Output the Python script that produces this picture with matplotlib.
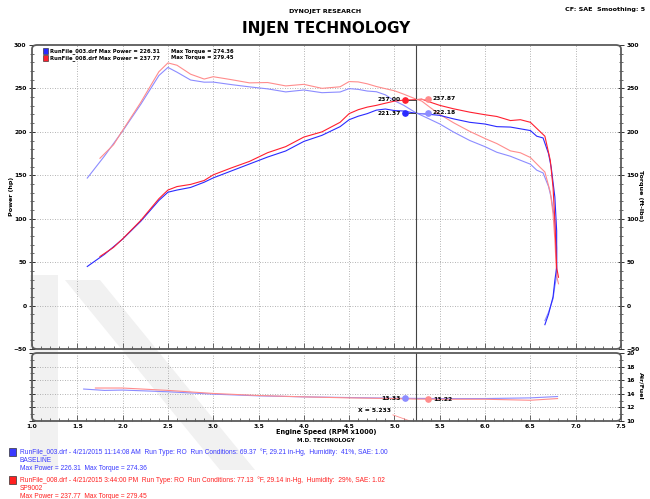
import matplotlib
matplotlib.use('Agg')
import matplotlib.pyplot as plt
from matplotlib.patches import FancyBboxPatch, Rectangle, Polygon
from matplotlib.ticker import MultipleLocator

# ---------------- data ----------------
rpm_003 = [1.61, 1.8, 2.0, 2.2, 2.4, 2.5, 2.6, 2.75, 2.9, 3.0, 3.2, 3.4, 3.6, 3.8, 4.0,
           4.2, 4.4, 4.5, 4.6, 4.7, 4.8, 4.9, 5.0, 5.1, 5.233, 5.35, 5.5, 5.65, 5.83,
           6.0, 6.13, 6.28, 6.39, 6.5, 6.57, 6.64, 6.70, 6.73, 6.77, 6.79, 6.79, 6.77,
           6.75, 6.70, 6.66]
power_003 = [45, 59, 76.5, 97, 121, 130.5, 133, 136, 142, 147, 155, 163, 171, 178, 189,
             196, 206, 214, 218, 221, 225, 226.3, 224.5, 224, 221.4, 220.5, 219, 215, 211,
             209, 206, 205.5, 203.5, 201.5, 195, 193, 175, 159, 125, 86, 44, 29,
             10, -10, -22]
torque_003 = [146.8, 172.2, 200.9, 231.6, 264.8, 274.2, 268.7, 259.7, 257.2, 257.3, 254.4,
              251.8, 249.5, 246.0, 248.2, 245.1, 245.9, 249.8, 248.9, 247.0, 246.2, 242.6,
              235.8, 230.7, 222.2, 216.5, 209.1, 199.9, 190.1, 182.9, 176.5, 171.9, 167.3,
              162.8, 155.9, 152.7, 137.2, 124.1, 97.0, 66.5, 34.0, 22.5, 7.8, -7.8, -17.3]

rpm_008 = [1.75, 1.9, 2.0, 2.2, 2.4, 2.5, 2.6, 2.75, 2.9, 3.0, 3.2, 3.4, 3.6, 3.8, 4.0,
           4.2, 4.4, 4.5, 4.6, 4.7, 4.8, 4.9, 5.0, 5.1, 5.233, 5.3, 5.4, 5.5, 5.65, 5.83,
           6.0, 6.13, 6.28, 6.39, 6.5, 6.61, 6.66, 6.72, 6.75, 6.77, 6.79, 6.81]
power_008 = [56.5, 67, 76.8, 98, 123, 133.0, 137, 139.5, 144, 150.5, 158.5, 166, 176, 183,
             194, 200, 211, 221, 225.5, 228.5, 230.5, 233, 235.4, 236.5, 237.0, 237.7, 234,
             230.5, 226.6, 222.7, 219.7, 217.7, 213, 214, 211, 200, 195, 167, 136, 98, 44, 32.6]
torque_008 = [169.6, 185.2, 201.7, 233.9, 269.2, 279.4, 276.7, 266.4, 260.8, 263.5, 260.1,
              256.4, 256.8, 252.9, 254.7, 250.1, 251.9, 257.9, 257.5, 255.3, 252.2, 249.7,
              247.3, 243.5, 237.9, 235.5, 227.6, 220.1, 210.6, 200.6, 192.3, 186.5, 178.1,
              175.9, 170.5, 158.9, 153.8, 130.5, 105.8, 76.0, 34.0, 25.1]

afr_rpm_003 = [1.57, 1.8, 2.0, 2.5, 3.0, 3.5, 4.0, 4.5, 5.0, 5.233, 5.5, 6.0, 6.5, 6.8]
afr_003 = [14.7, 14.5, 14.55, 14.3, 13.95, 13.7, 13.55, 13.45, 13.35, 13.33, 13.3, 13.3, 13.4, 13.6]
afr_rpm_008 = [1.7, 2.0, 2.5, 3.0, 3.5, 4.0, 4.5, 5.0, 5.233, 5.5, 6.0, 6.5, 6.8]
afr_008 = [14.85, 14.85, 14.5, 14.05, 13.75, 13.55, 13.4, 13.3, 13.22, 13.2, 13.2, 13.05, 13.3]

cursor_rpm = 5.233
cursor_power = [221.37, 237.00]
cursor_torque = [222.18, 237.87]
cursor_afr = [13.33, 13.22]

x_ticks = [1.0, 1.5, 2.0, 2.5, 3.0, 3.5, 4.0, 4.5, 5.0, 5.5, 6.0, 6.5, 7.0, 7.5]
y_ticks = [-50, 0, 50, 100, 150, 200, 250, 300]
afr_ticks = [10, 12, 14, 16, 18, 20]

# ---------------- figure ----------------
W, H = 650, 499
fig = plt.figure(figsize=(6.5, 4.99), dpi=100)

def fx(x):
    return x / W

def fy(y):
    return 1 - y / H

C_BLUE = '#2a2aff'
C_LBLUE = '#8c8cff'
C_RED = '#ff1f2f'
C_PINK = '#ff8c8c'
FRAME = '#5a5a5a'
GRID = '#9a9a9a'
TB = dict(family='DejaVu Sans', weight='bold')
WM = '#f1f1f1'

# faint logo watermark shapes (decorative background)
fig.patches.append(Rectangle((fx(30), fy(470)), 28 / W, 195 / H, transform=fig.transFigure,
                             facecolor=WM, edgecolor='none', zorder=0))
fig.patches.append(Polygon([(fx(65), fy(280)), (fx(100), fy(280)), (fx(255), fy(470)),
                            (fx(220), fy(470))], closed=True, transform=fig.transFigure,
                           facecolor=WM, edgecolor='none', zorder=0))

L, R = 32, 621
ax = fig.add_axes([fx(L), fy(349), (R - L) / W, (349 - 45) / H])
ax2 = fig.add_axes([fx(L), fy(421), (R - L) / W, (421 - 353) / H])
for a in (ax, ax2):
    a.set_facecolor('none')
    a.set_zorder(2)
    for s in a.spines.values():
        s.set_visible(False)
    a.set_xlim(1.0, 7.5)

ax.set_ylim(-50, 300)
ax2.set_ylim(10, 20)

# rounded frames
for (top, bot) in ((45, 349), (353, 421)):
    fig.patches.append(FancyBboxPatch((fx(L), fy(bot)), (R - L) / W, (bot - top) / H,
                                      boxstyle='round,pad=0,rounding_size=0.008',
                                      transform=fig.transFigure, facecolor='none',
                                      edgecolor=FRAME, lw=1.3, zorder=5))

# grid
grid_kw = dict(color=GRID, lw=0.6, ls=(0, (1, 2)), zorder=1)
for xv in x_ticks[1:-1]:
    ax.axvline(xv, **grid_kw)
    ax2.axvline(xv, **grid_kw)
for yv in y_ticks[1:-1]:
    ax.axhline(yv, **grid_kw)
for yv in afr_ticks[1:-1]:
    ax2.axhline(yv, **grid_kw)

# ticks
ax.set_xticks(x_ticks)
ax.xaxis.set_minor_locator(MultipleLocator(0.1))
ax.set_xticklabels([])
ax.set_yticks(y_ticks)
ax.yaxis.set_minor_locator(MultipleLocator(10))
ax.tick_params(axis='y', which='both', left=True, right=True, labelleft=True,
               labelright=True, direction='inout', color='#333', labelsize=4.3, pad=1.5)
ax.tick_params(axis='y', which='major', length=5, width=0.7)
ax.tick_params(axis='y', which='minor', length=3, width=0.5)
ax.tick_params(axis='x', which='both', direction='in', color='#333', width=0.5)
ax.tick_params(axis='x', which='major', length=4)
ax.tick_params(axis='x', which='minor', length=2)

ax2.set_xticks(x_ticks)
ax2.set_xticklabels([f'{v:.1f}' for v in x_ticks])
ax2.xaxis.set_minor_locator(MultipleLocator(0.1))
ax2.set_yticks(afr_ticks)
ax2.yaxis.set_minor_locator(MultipleLocator(1))
ax2.tick_params(axis='y', which='both', left=True, right=True, labelleft=False,
                labelright=True, direction='inout', color='#333', labelsize=4.3, pad=1.5)
ax2.tick_params(axis='y', which='major', length=5, width=0.7)
ax2.tick_params(axis='y', which='minor', length=3, width=0.5)
ax2.tick_params(axis='x', which='both', direction='in', color='#333', width=0.5,
                labelsize=4.3, pad=2)
ax2.tick_params(axis='x', which='major', length=4)
ax2.tick_params(axis='x', which='minor', length=2)
for t in ax.get_yticklabels() + ax2.get_yticklabels() + ax2.get_xticklabels():
    t.set_fontweight('bold')
    t.set_family('DejaVu Sans')

# curves
lw = 0.8
ax.plot(rpm_003, torque_003, color=C_LBLUE, lw=lw, zorder=3)
ax.plot(rpm_008, torque_008, color=C_PINK, lw=lw, zorder=3)
ax.plot(rpm_003, power_003, color=C_BLUE, lw=lw, zorder=4)
ax.plot(rpm_008, power_008, color=C_RED, lw=lw, zorder=4)
ax2.plot(afr_rpm_003, afr_003, color=C_LBLUE, lw=lw, zorder=3)
ax2.plot(afr_rpm_008, afr_008, color=C_PINK, lw=lw, zorder=3)

# cursor
ax.axvline(cursor_rpm, color='#444', lw=0.8, zorder=5)
ax2.axvline(cursor_rpm, color='#444', lw=0.8, zorder=5)
dl, dr = cursor_rpm - 0.12, cursor_rpm + 0.14
for val, col in ((cursor_power[0], C_BLUE), (cursor_power[1], C_RED)):
    ax.plot([dl, cursor_rpm], [val, val], color='#333', lw=0.6, zorder=6)
    ax.plot(dl, val, 'o', ms=3.8, color=col, zorder=7)
    ax.text(dl - 0.04, val, f'{val:.2f}', ha='right', va='center', fontsize=4.3,
            zorder=7, **TB)
for val, col in ((cursor_torque[0], C_LBLUE), (cursor_torque[1], C_PINK)):
    ax.plot([cursor_rpm, dr], [val, val], color=col, lw=0.6, zorder=6)
    ax.plot(dr, val, 'o', ms=3.8, color=col, zorder=7)
    ax.text(dr + 0.05, val, f'{val:.2f}', ha='left', va='center', fontsize=4.3,
            zorder=7, **TB)
ax2.plot(dl, cursor_afr[0], 'o', ms=3.8, color=C_LBLUE, zorder=7)
ax2.text(dl - 0.04, cursor_afr[0], f'{cursor_afr[0]:.2f}', ha='right', va='center',
         fontsize=4.3, zorder=7, **TB)
ax2.plot(dr, cursor_afr[1], 'o', ms=3.8, color=C_PINK, zorder=7)
ax2.text(dr + 0.05, cursor_afr[1], f'{cursor_afr[1]:.2f}', ha='left', va='center',
         fontsize=4.3, zorder=7, **TB)
ax2.text(cursor_rpm - 0.27, 11.6, f'X = {cursor_rpm:.3f}', ha='right', va='center',
         fontsize=4.3, zorder=7, **TB)
ax2.plot([cursor_rpm - 0.25, cursor_rpm - 0.02], [10.9, 9.8], color=C_PINK, lw=0.6, zorder=6)

# legend inside
for yy, col, txt1, txt2 in ((51, C_BLUE, 'RunFile_003.drf Max Power = 226.31', 'Max Torque = 274.36'),
                            (58, C_RED, 'RunFile_008.drf Max Power = 237.77', 'Max Torque = 279.45')):
    fig.patches.append(Rectangle((fx(43), fy(yy + 3)), 5 / W, 6 / H, transform=fig.transFigure,
                                 facecolor=col, edgecolor='#222', lw=0.4, zorder=6))
    fig.text(fx(50), fy(yy), txt1, fontsize=3.8, va='center', ha='left', **TB)
    fig.text(fx(171), fy(yy), txt2, fontsize=3.8, va='center', ha='left', **TB)

# axis labels & titles
fig.text(fx(12), fy(196), 'Power (hp)', rotation=90, fontsize=4.6, ha='center', va='center', **TB)
fig.text(fx(641), fy(196), 'Torque (ft-lbs)', rotation=-90, fontsize=4.6, ha='center', va='center', **TB)
fig.text(fx(641), fy(386), 'Air/Fuel', rotation=-90, fontsize=4.6, ha='center', va='center', **TB)
fig.text(fx(326), fy(432), 'Engine Speed (RPM x1000)', fontsize=4.8, ha='center', va='center', **TB)
fig.text(fx(326), fy(440), 'M.D. TECHNOLOGY', fontsize=4.0, ha='center', va='center', **TB)
fig.text(fx(325), fy(11), 'DYNOJET RESEARCH', fontsize=4.6, ha='center', va='center', **TB)
fig.text(fx(645), fy(9), 'CF: SAE  Smoothing: 5', fontsize=4.6, ha='right', va='center', **TB)
fig.text(fx(326), fy(28), 'INJEN TECHNOLOGY', fontsize=11, ha='center', va='center',
         family='DejaVu Sans', weight='heavy', color='black')

# footer
F = dict(family='Liberation Sans', fontsize=4.8, ha='left', va='center')
lines_003 = ['RunFile_003.drf - 4/21/2015 11:14:08 AM  Run Type: RO  Run Conditions: 69.37  \u00b0F, 29.21 in-Hg,  Humidity:  41%, SAE: 1.00',
             'BASELINE', 'Max Power = 226.31  Max Torque = 274.36']
lines_008 = ['RunFile_008.drf - 4/21/2015 3:44:00 PM  Run Type: RO  Run Conditions: 77.13  \u00b0F, 29.14 in-Hg,  Humidity:  29%, SAE: 1.02',
             'SP9002', 'Max Power = 237.77  Max Torque = 279.45']
for y0, col, lines in ((452, '#3a3aff', lines_003), (480, '#ff2020', lines_008)):
    fig.patches.append(Rectangle((fx(9), fy(y0 + 4)), 7 / W, 8 / H, transform=fig.transFigure,
                                 facecolor=col, edgecolor='#333', lw=0.5, zorder=6))
    for i, ln in enumerate(lines):
        fig.text(fx(20), fy(y0 + i * 8.2), ln, color=col, **F)

fig.savefig('out.png', dpi=100)
